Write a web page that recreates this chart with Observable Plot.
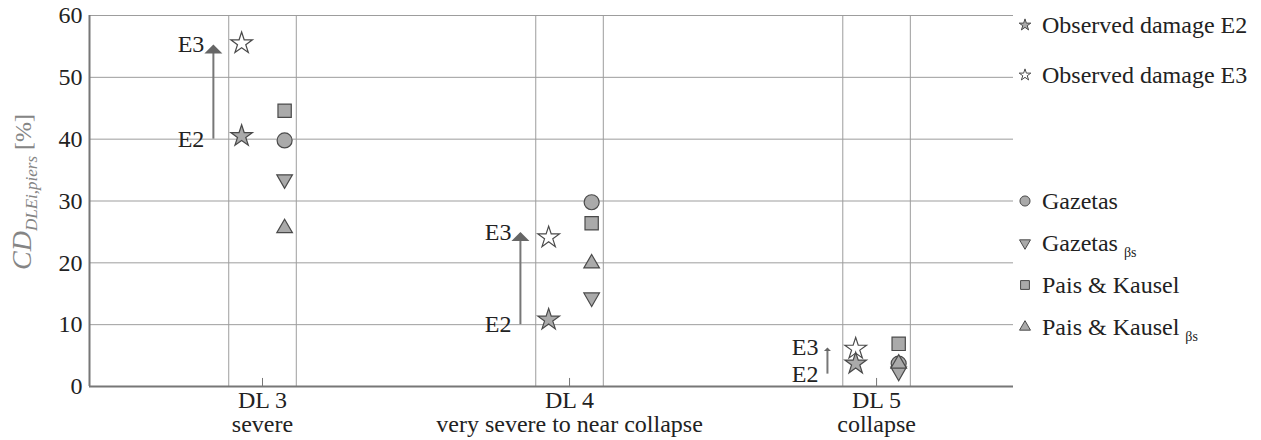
<!DOCTYPE html>
<html><head><meta charset="utf-8">
<script src="https://cdn.jsdelivr.net/npm/d3@7"></script>
<script src="https://cdn.jsdelivr.net/npm/@observablehq/plot@0.6"></script>
<style>
body{margin:0;background:#fff;}
#wrap{position:relative;width:1261px;height:440px;font-family:"Liberation Serif","Times New Roman",serif;}
.leg{position:absolute;left:1017px;display:flex;align-items:center;height:24px;font-size:24px;line-height:24px;color:#222;white-space:nowrap;}
.leg svg{width:16px;height:16px;margin-right:9px;overflow:visible;}
.leg .sub{font-size:14px;position:relative;top:10px;margin-left:6px;color:#222;}
</style></head><body><div id="wrap"></div>
<script>
// ---- data ----
const categories = ["DL 3", "DL 4", "DL 5"];
const damageLabels = ["severe", "very severe to near collapse", "collapse"];
const observedE2 = [40.5, 10.8, 3.7];
const observedE3 = [55.5, 24.1, 6.1];
const gazetas = [39.8, 29.8, 3.7];
const gazetasBs = [33.5, 14.4, 2.4];
const paisKausel = [44.6, 26.4, 6.9];
const paisKauselBs = [25.6, 19.9, 3.7];
const arrowFrom = [40, 10, 2];
const arrowTo = [55.3, 25, 6.3];
const yTicks = [0, 10, 20, 30, 40, 50, 60];
const legendLabels = ["Observed damage E2", "Observed damage E3", "Gazetas", "Gazetas", "Pais & Kausel", "Pais & Kausel"];
const legendSubs = ["", "", "", "βs", "", "βs"];
const legendSymbols = ["star", "starOpen", "circle", "down", "square", "up"];

// ---- layout ----
const W = 1261, H = 440, mL = 89, mR = 248, mT = 15, mB = 54;
const xDomain = [-0.5635, 2.446];
const idx = categories.map((_, i) => i);
const starDx = -0.068, modelDx = 0.072, arrowDx = -0.16, bracket = 0.11;
const gridC = "#9d9d9d", axisC = "#777", markFill = "#aaa", markStroke = "#4a4a4a";

const headSymbol = {
  draw(ctx, size) {
    const r = Math.sqrt(size / Math.PI);
    ctx.moveTo(0, 0);
    ctx.lineTo(r, r);
    ctx.lineTo(-r, r);
    ctx.closePath();
  }
};

const pts = (vals) => idx.map(i => ({i, v: vals[i]}));
const dotOpts = (dx, extra) => Object.assign({x: d => d.i + dx, y: "v", fill: markFill, stroke: markStroke, strokeWidth: 1.2}, extra);

const big = idx.filter(i => arrowTo[i] - arrowFrom[i] > 8);
const small = idx.filter(i => arrowTo[i] - arrowFrom[i] <= 8);

const chart = Plot.plot({
  width: W, height: H,
  marginLeft: mL, marginRight: mR, marginTop: mT, marginBottom: mB,
  style: {fontFamily: "'Liberation Serif', 'Times New Roman', serif", fontSize: "24px", color: "#222", background: "transparent"},
  x: {domain: xDomain, axis: null},
  y: {domain: [0, 60], axis: null},
  marks: [
    Plot.gridY(yTicks, {stroke: gridC, strokeOpacity: 1}),
    Plot.ruleX(idx.flatMap(i => [i - bracket, i + bracket]), {stroke: gridC, strokeOpacity: 1}),
    Plot.ruleY([0], {stroke: axisC, strokeWidth: 2}),
    Plot.ruleX([xDomain[0]], {stroke: axisC, strokeWidth: 2}),
    Plot.ruleX(idx, {y1: 0, y2: 1.3, stroke: axisC, strokeWidth: 1}),
    Plot.axisY({ticks: yTicks, tickSize: 0, tickPadding: 7, label: null, fontSize: 24}),
    Plot.text(idx, {x: i => i, frameAnchor: "bottom", text: i => categories[i] + "\n" + damageLabels[i], lineAnchor: "top", dy: 4, lineHeight: 1, fontSize: 24, fill: "#222"}),
    // arrows
    Plot.ruleX(idx, {x: i => i + arrowDx, y1: i => arrowFrom[i], y2: i => arrowTo[i] - 0.3, stroke: "#777", strokeWidth: 2}),
    Plot.dot(big, {x: i => i + arrowDx, y: i => arrowTo[i], symbol: headSymbol, r: 9, fill: "#666", stroke: "none"}),
    Plot.dot(small, {x: i => i + arrowDx, y: i => arrowTo[i], symbol: headSymbol, r: 3.5, fill: "#666", stroke: "none"}),
    Plot.text(idx, {x: i => i + arrowDx, y: i => arrowFrom[i], text: () => "E2", textAnchor: "end", dx: -9, fontSize: 24, fill: "#222"}),
    Plot.text(idx, {x: i => i + arrowDx, y: i => arrowTo[i], text: () => "E3", textAnchor: "end", dx: -9, fontSize: 24, fill: "#222"}),
    // observed
    Plot.dot(pts(observedE3), dotOpts(starDx, {symbol: "star", r: 6.8, fill: "#fff"})),
    Plot.dot(pts(observedE2), dotOpts(starDx, {symbol: "star", r: 6.8})),
    // models
    Plot.dot(pts(gazetas), dotOpts(modelDx, {symbol: "circle", r: 7.5})),
    Plot.dot(pts(paisKausel), dotOpts(modelDx, {symbol: "square", r: 7.5})),
    Plot.dot(pts(gazetasBs), dotOpts(modelDx, {symbol: "triangle", r: 5.8, rotate: 180})),
    Plot.dot(pts(paisKauselBs), dotOpts(modelDx, {symbol: "triangle", r: 5.8}))
  ]
});

const wrap = document.getElementById("wrap");
wrap.appendChild(chart);

// y-axis label with subscript
const svg = d3.select(chart);
const yl = svg.append("text")
  .attr("transform", "translate(31,192) rotate(-90)")
  .attr("text-anchor", "middle")
  .attr("fill", "#858585")
  .style("font-family", "'Liberation Serif', serif");
yl.append("tspan").attr("font-style", "italic").attr("font-size", 28).text("CD");
yl.append("tspan").attr("font-style", "italic").attr("font-size", 17).attr("dy", 6).text("DLEi,piers");
yl.append("tspan").attr("font-size", 24).attr("dy", -6).text(" [%]");

// legend
const legendTops = [25, 75, 201, 243, 285, 327];
const symPath = {
  star: () => d3.symbol(d3.symbolStar, 42)(),
  starOpen: () => d3.symbol(d3.symbolStar, 42)(),
  circle: () => d3.symbol(d3.symbolCircle, 80)(),
  square: () => d3.symbol(d3.symbolSquare, 78)(),
  up: () => d3.symbol(d3.symbolTriangle, 52)(),
  down: () => d3.symbol(d3.symbolTriangle, 52)()
};
legendLabels.forEach((label, k) => {
  const sym = legendSymbols[k];
  const row = d3.select(wrap).append("div").attr("class", "leg").style("top", (legendTops[k] - 12) + "px");
  const s = row.append("svg").attr("viewBox", "-8 -8 16 16");
  s.append("path").attr("d", symPath[sym]())
    .attr("transform", sym === "down" ? "rotate(180)" : null)
    .attr("fill", sym === "starOpen" ? "#fff" : markFill).attr("stroke", markStroke).attr("stroke-width", 1);
  row.append("span").text(label);
  if (legendSubs[k]) row.append("span").attr("class", "sub").text(legendSubs[k]);
});
</script></body></html>
